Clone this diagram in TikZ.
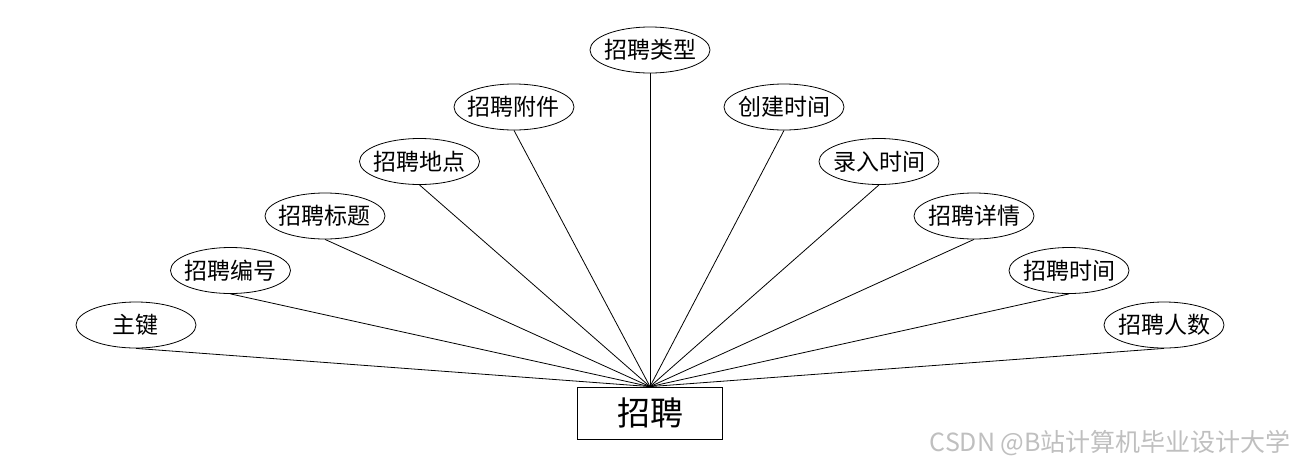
\documentclass[tikz,border=0pt]{standalone}
\usepackage{fontspec}
\newfontfamily\cjk{Noto Sans CJK SC}
\usetikzlibrary{positioning,shapes.geometric}

\begin{document}
\begin{tikzpicture}[x=1pt,y=1pt,on grid,thin]
	\tikzstyle{attr}=[ellipse,draw,minimum width=60pt,minimum height=23pt,
		inner xsep=-4pt,inner ysep=0pt,font=\cjk\fontsize{11.5}{12}\selectfont]
	\tikzstyle{entity}=[rectangle,draw,minimum width=72.5pt,minimum height=26pt,
		font=\cjk\fontsize{16.5}{18}\selectfont]
	
	\useasboundingbox (-325,-27.5) rectangle (325,206.5);
	
	\node[entity]         (zp) at (0,0) {招聘};
	
	\node[attr]           (zj) at (-257,44) {主键};
	\node[attr]           (bh) [above right=27.25pt and 47.25pt of zj] {招聘编号};
	\node[attr]           (bt) [above right=27.25pt and 47.25pt of bh] {招聘标题};
	\node[attr]           (dd) [above right=27.25pt and 47.25pt of bt] {招聘地点};
	\node[attr]           (fj) [above right=27.25pt and 47.25pt of dd] {招聘附件};
	\node[attr]           (lx) [above right=28.5pt and 68pt of fj] {招聘类型};
	\node[attr]           (cj) [below right=28.5pt and 67pt of lx] {创建时间};
	\node[attr]           (lr) [below right=27.25pt and 47.5pt of cj] {录入时间};
	\node[attr]           (xq) [below right=27.25pt and 47.5pt of lr] {招聘详情};
	\node[attr]           (sj) [below right=27.25pt and 47.5pt of xq] {招聘时间};
	\node[attr]           (rs) [below right=27.25pt and 47.5pt of sj] {招聘人数};
	
	\foreach \n in {zj,bh,bt,dd,fj,lx,cj,lr,xq,sj,rs}
		\draw (\n.south) -- (zp.north);
	
	\node[anchor=east,text=black!25,font=\cjk\fontsize{12.5}{13}\selectfont] (wm) at (324,-15) {CSDN @B站计算机毕业设计大学};
	
\end{tikzpicture}
\end{document}
